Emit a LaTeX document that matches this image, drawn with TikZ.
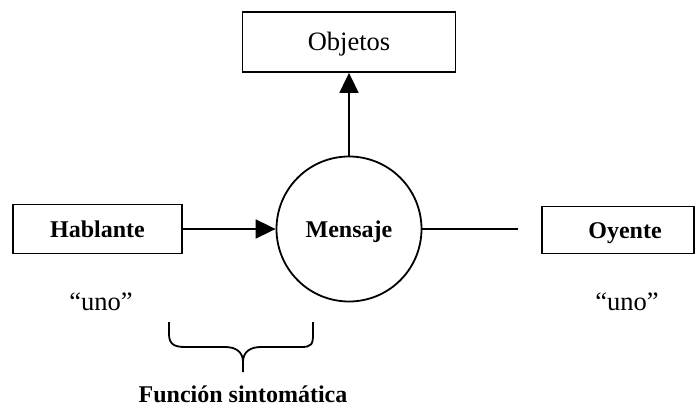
\documentclass[tikz,border=0pt]{standalone}
\usepackage{fontspec}
\setmainfont{Liberation Serif}
\usetikzlibrary{arrows.meta, positioning}

\begin{document}
\begin{tikzpicture}[x=1pt, y=-1pt,
    every node/.style={text height=17.5pt, text depth=0pt},
    font=\fontsize{26.5}{30}\selectfont,
    strong/.style={font=\fontsize{24}{28}\selectfont\bfseries, text height=16.2pt},
    box/.style={draw, line width=1.8pt, inner sep=0pt},
    link/.style={line width=1.8pt},
    tip/.style={-{Triangle[length=20pt, width=19pt]}}]

    \useasboundingbox (0,0) rectangle (699,409);

    % Add the boxes and the message
    \node[draw, circle, line width=1.8pt, minimum size=145pt, strong]
                                                              (mensaje)  at (349,229) {Mensaje};
    \node[box, minimum width=213pt, minimum height=60pt]      (objetos)  at (349,42)  {Objetos};
    \node[box, minimum width=169pt, minimum height=49pt, strong]
                                                              (hablante) at (97.5,229)  {Hablante};
    \node[box, minimum width=152pt, minimum height=47pt, strong]
                                                              (oyente)   at (618,230)   {\hspace{14pt}Oyente};
    \coordinate (corte) at (518,229);

    % The labels below
    \node (unoA) at (101,302) {“uno”};
    \node (unoB) at (627,302) {“uno”};
    \node[strong, inner sep=0.5pt] (sinto) at (243,394) {Función sintomática};

    % Connect them
    \draw[link, tip] (mensaje.north) -- (objetos.south);
    \draw[link, tip] (hablante.east) -- (mensaje.west);
    \draw[link] (mensaje.east) -- (corte);

    % The brace
    \draw[link] (169,322) -- (169,334) .. controls (169,344) and (174,347) .. (185,347)
        -- (225,347) .. controls (236,347) and (243,352) .. (243,362) -- (243,372)
        (243,362) .. controls (243,352) and (250,347) .. (261,347)
        -- (301,347) .. controls (312,347) and (313,344) .. (313,334) -- (313,322);
\end{tikzpicture}
\end{document}
